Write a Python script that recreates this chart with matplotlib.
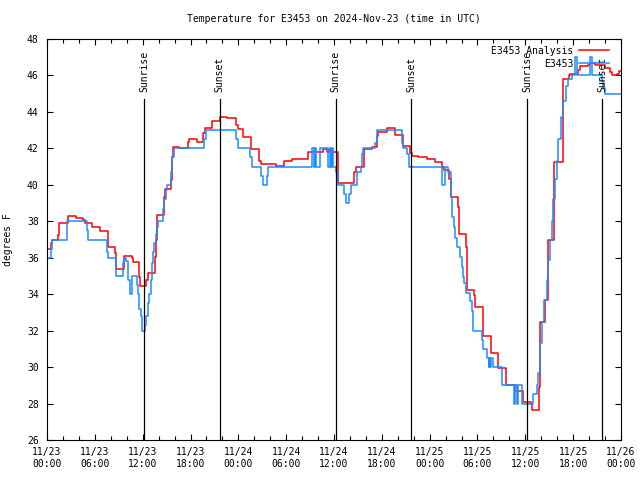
import matplotlib
matplotlib.use("Agg")
import matplotlib.pyplot as plt
from matplotlib.ticker import MultipleLocator, FixedLocator

plt.rcParams['font.family'] = ['DejaVu Sans Mono']

# ---- data (hours since 2024-11-23 00:00 UTC) ----
obs_hours = [0, 0.5, 0.67, 2.46, 4.98, 5.18, 7.48, 7.69, 8.65, 9.49, 9.7, 9.95, 10.2, 10.45,
             10.7, 11.25, 11.46, 11.6, 11.79, 11.96, 12.29, 12.42, 12.63, 12.84, 13.0, 13.21,
             13.34, 13.46, 13.67, 13.84, 13.97, 14.59, 14.72, 14.89, 15.01, 15.6, 15.72, 15.97,
             19.69, 19.95, 23.71, 24.0, 25.46, 25.76, 26.85, 27.05, 27.55, 27.76,
             33.28, 33.45, 33.6, 33.75, 34.25, 35.3, 35.45, 35.6, 35.75, 35.9, 36.2, 36.46,
             37.3, 37.45, 37.88, 38.09, 38.93, 39.35, 39.55, 39.68, 41.14, 41.44,
             44.49, 44.61, 45.2, 45.45, 49.6, 49.93, 50.34, 50.68, 50.84, 51.01, 51.18,
             51.43, 51.77, 52.02, 52.18, 52.35, 52.56, 53.1, 53.27, 53.48,
             54.52, 54.73, 55.23, 55.4, 55.5, 55.6, 55.7, 55.99, 57.03, 58.62, 58.75,
             58.91, 59.1, 59.54, 61.0, 61.42, 61.63, 61.84, 62.05, 62.34, 62.68, 62.89,
             63.1, 63.3, 63.51, 63.72, 63.93, 64.14, 64.43, 64.77, 65.06, 65.39, 65.81,
             66.23, 66.44, 68.11, 68.32, 69.58, 69.78, 69.99, 71.79]
obs_temps = [36, 36.5, 37, 38, 37.5, 37, 36.3, 36, 35, 35.7, 36, 35.8, 34.8, 34,
             35, 34.5, 34, 33.2, 32.8, 32, 32.3, 32.8, 33.5, 34, 34.8, 35.7,
             36.3, 36.8, 37.3, 37.7, 38, 38.7, 39.2, 39.7, 40, 40.7, 41.5, 42,
             42.5, 43, 42.5, 42, 41.5, 41, 40.5, 40, 40.5, 41,
             42, 41, 42, 41, 42, 41, 42, 41, 42, 41, 40.7, 40,
             39.5, 39, 39.5, 40, 40.7, 41, 41.7, 42, 42.3, 43,
             42.3, 42, 41.7, 41, 40, 41, 40.7, 39.35, 38.25, 37.7, 37.07,
             36.6, 36.05, 35.5, 34.96, 34.6, 34.05, 33.6, 33.1, 32,
             31.5, 31, 30.5, 30, 30.5, 30, 30.5, 30, 29, 28, 29,
             28, 29, 28, 28.5, 29, 29.7, 31.3, 32.5, 33.7, 34.8, 35.9,
             37, 38, 39.2, 40.3, 41.3, 42.5, 43.7, 44.6, 45.4, 45.8, 46,
             47, 46, 47, 46, 45.7, 45.3, 45, 45]

ana_hours = [0, 0.5, 0.67, 1.42, 1.55, 2.59, 2.68, 3.64, 4.56, 4.77, 5.65, 6.65, 7.61, 7.69,
             8.53, 8.65, 9.62, 9.7, 10.62, 10.75, 11.58, 11.71, 12.42, 12.71, 13.59, 13.67,
             13.76, 14.64, 14.8, 15.56, 15.64, 15.76, 16.56, 17.65, 17.81,
             18.77, 19.61, 19.82, 20.74, 21.7, 22.62, 23.71, 24.0, 24.63, 25.59, 26.64,
             26.8, 28.73, 29.73, 30.69, 32.78, 33.62, 34.66, 35.16, 35.41, 35.6,
             36.55, 38.55, 38.72, 39.81, 40.73, 41.35, 41.56, 42.61, 43.65, 44.61, 45.53,
             45.74, 46.58, 47.71, 48.67, 49.59, 49.84, 50.47, 50.63, 51.6, 51.72, 52.56,
             52.73, 53.61, 53.69, 54.65, 54.73, 55.69, 56.62, 57.58, 58.7, 59.67, 60.67,
             60.8, 61.67, 61.84, 62.47, 62.89, 63.6, 64.68, 65.48, 65.6, 66.65, 66.86,
             67.9, 68.11, 68.74, 69.99, 70.62, 70.83, 71.54, 71.79]
ana_temps = [36.5, 36.8, 37, 37.25, 37.9, 38.17, 38.27, 38.17, 38.07, 37.9, 37.7, 37.47, 37.0, 36.57,
             36.24, 35.4, 35.87, 36.1, 35.97, 35.78, 34.96, 34.45, 34.78, 35.14, 36.05, 37.0,
             38.34, 39.35, 39.75, 40.26, 41.54, 42.09, 42.0, 42.33, 42.5,
             42.37, 42.86, 43.1, 43.5, 43.7, 43.64, 43.3, 43.04, 42.6, 41.97, 41.3,
             41.14, 41.03, 41.32, 41.41, 41.78, 41.82, 41.95, 41.8, 41.95, 41.82,
             40.1, 40.72, 41.0, 41.95, 42.1, 42.7, 42.9, 43.1, 42.73, 42.13, 41.72,
             41.58, 41.5, 41.4, 41.23, 41.0, 40.8, 40.3, 39.35, 38.8, 37.3, 36.6,
             34.23, 33.95, 33.3, 32.8, 31.7, 30.75, 29.93, 29.0, 28.7, 28.1, 27.97,
             27.65, 28.92, 32.5, 33.7, 37.0, 41.27, 45.8, 46.0, 46.1, 46.3, 46.5,
             46.6, 46.7, 46.57, 46.4, 46.2, 46.0, 46.1, 46.26]

sun_hours = [12.22, 21.65, 36.22, 45.72, 60.25, 69.66]
sun_labels = ["Sunrise", "Sunset", "Sunrise", "Sunset", "Sunrise", "Sunset"]

xtick_hours = list(range(0, 73, 6))
xtick_labels = ["11/23\n00:00", "11/23\n06:00", "11/23\n12:00", "11/23\n18:00",
                "11/24\n00:00", "11/24\n06:00", "11/24\n12:00", "11/24\n18:00",
                "11/25\n00:00", "11/25\n06:00", "11/25\n12:00", "11/25\n18:00",
                "11/26\n00:00"]

title = "Temperature for E3453 on 2024-Nov-23 (time in UTC)"

# ---- figure ----
fig = plt.figure(figsize=(6.4, 4.8), dpi=100)
ax = fig.add_axes([47/640, 40/480, 574/640, 401/480])

ax.plot(ana_hours + [72], ana_temps + [ana_temps[-1]], drawstyle='steps-post',
        color='#ff0000', lw=1.1, label='E3453 Analysis')
ax.plot(obs_hours + [72], obs_temps + [obs_temps[-1]], drawstyle='steps-post',
        color='#1e8cff', lw=1.1, label='E3453')

for h, lab in zip(sun_hours, sun_labels):
    ax.plot([h, h], [26, 44.7], color='black', lw=0.9)
    ax.text(h, 45.1, lab, rotation=90, ha='center', va='bottom', fontsize=7)

ax.set_xlim(0, 72)
ax.set_ylim(26, 48)
ax.xaxis.set_major_locator(FixedLocator(xtick_hours))
ax.set_xticklabels(xtick_labels)
ax.xaxis.set_minor_locator(MultipleLocator(2))
ax.yaxis.set_major_locator(MultipleLocator(2))
ax.tick_params(which='both', direction='in', top=True, right=True, labelsize=7, width=0.8)
ax.tick_params(which='major', length=4.5)
ax.tick_params(which='minor', length=3)
ax.tick_params(axis='x', pad=5)
ax.tick_params(axis='y', pad=6)
for s in ax.spines.values():
    s.set_linewidth(0.8)

ax.set_ylabel("degrees F", fontsize=7, labelpad=10)
fig.text(334/640, 1 - 19/480, title, ha='center', va='center', fontsize=7)

leg = ax.legend(loc='upper right', bbox_to_anchor=(1 - 7/574, 1 - 2/401),
                frameon=False, markerfirst=False, fontsize=7,
                handlelength=3.1, handletextpad=0.6, labelspacing=0.3,
                borderaxespad=0.3, borderpad=0.2)

fig.savefig("out.png", dpi=100)
